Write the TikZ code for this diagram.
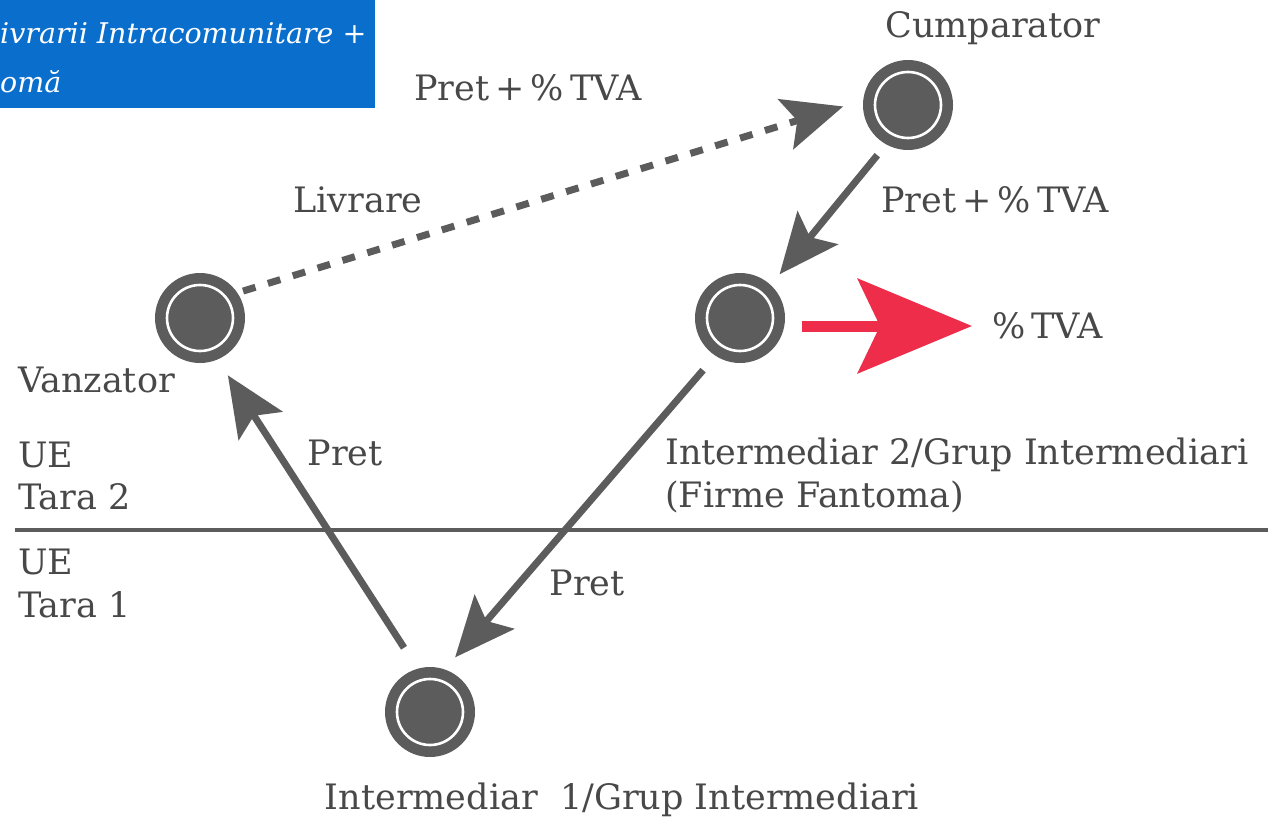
\documentclass[tikz,border=0pt]{standalone}
\usepackage{fontspec}
\setmainfont{DejaVu Serif}
\usetikzlibrary{arrows.meta}
\definecolor{dgray}{RGB}{92,92,92}
\definecolor{tgray}{RGB}{72,72,72}
\definecolor{vred}{RGB}{238,45,75}
\definecolor{vblue}{RGB}{10,110,205}
\tikzset{
  station/.style={circle, fill=dgray, minimum size=90pt, inner sep=0pt, outer sep=0pt,
    path picture={\draw[white, line width=2.6pt] (path picture bounding box.center) circle (33pt);}},
  lbl/.style={font=\fontsize{35}{40}\selectfont, text=tgray, inner sep=0pt},
  flow/.style={draw=dgray, line width=7pt, -{Stealth[length=60pt, width=52pt, inset=12pt]}},
  redarrow/.style={draw=vred, line width=11pt, -{Stealth[length=114pt, width=94pt, inset=22pt]}}
}
\newcommand{\tsp}{\hspace{6pt}}
\begin{document}
\begin{tikzpicture}[x=1pt, y=-1pt]
\useasboundingbox (0,0) rectangle (1268,819);
\fill[white] (0,0) rectangle (1268,819);
% title box
\fill[vblue] (0,0) rectangle (375,108);
\node[anchor=west, inner sep=0pt, text=white, font=\itshape\fontsize{28.5}{32}\selectfont] (t1) at (0,33) {ivrarii Intracomunitare +};
\node[anchor=west, inner sep=0pt, text=white, font=\itshape\fontsize{28.5}{32}\selectfont] (t2) at (0,82) {omă};
% border line
\draw[draw=dgray, line width=4pt] (15,530) -- (1268,530);
% stations
\node[station] (v) at (200,318) {};
\node[station] (c) at (908,105) {};
\node[station] (i2) at (740,318) {};
\node[station] (i1) at (430,712) {};
% labels
\node[lbl] (lc) at (993,28) {Cumparator};
\node[lbl] (lp1) at (528,88) {Pret\tsp+\tsp\%\tsp TVA};
\node[lbl] (lp2) at (995,200) {Pret\tsp+\tsp\%\tsp TVA};
\node[lbl] (ll) at (358,200) {Livrare};
\node[lbl, anchor=west] (tva) at (992,326) {\%\tsp TVA};
\node[lbl, anchor=west] (lv) at (18,380) {Vanzator};
\node[lbl, anchor=west] (ue2) at (18,455) {UE};
\node[lbl, anchor=west] (tr2) at (18,497) {Tara 2};
\node[lbl, anchor=west] (ue1) at (18,562) {UE};
\node[lbl, anchor=west] (tr1) at (18,605) {Tara 1};
\node[lbl] (pa) at (345,453) {Pret};
\node[lbl, anchor=west] (li2) at (665,455) {Intermediar 2/Grup Intermediari};
\node[lbl, anchor=west] (lf) at (665,497) {(Firme Fantoma)};
\node[lbl] (pb) at (587,583) {Pret};
\node[lbl] (li1) at (622,800) {Intermediar\ \ 1/Grup Intermediari};
% connectors
\draw[flow, dash pattern=on 13pt off 13pt, shorten <=6pt, shorten >=21pt] (v.34.6) -- (c.174.6);
\draw[flow, shorten <=14pt, shorten >=14pt] (c.241.7) -- (i2.47.1);
\draw[flow, shorten <=19pt, shorten >=16pt] (i2.237) -- (i1.71);
\draw[flow, shorten <=25pt, shorten >=19pt] (i1.106.6) -- (v.-67);
\draw[redarrow, shorten <=17pt, shorten >=20pt] (i2.east |- tva.west) -- (tva.west);
\end{tikzpicture}
\end{document}
